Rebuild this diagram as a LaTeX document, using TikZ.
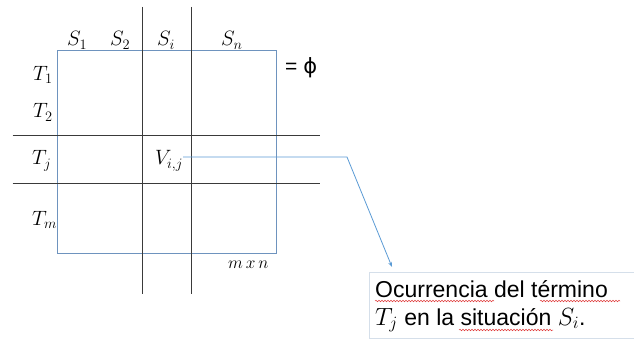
\documentclass[tikz,border=0pt]{standalone}
\usepackage{fontspec}
\newfontfamily\arialf{Liberation Sans}
\newfontfamily\dejaf{DejaVu Sans}
\usetikzlibrary{arrows.meta,decorations.pathmorphing}
\definecolor{rectblue}{HTML}{6E93BE}
\definecolor{connblue}{HTML}{5B9BD5}
\definecolor{gridline}{HTML}{3A3A3A}
\definecolor{boxedge}{HTML}{D5DFEA}
\definecolor{squig}{HTML}{E03C3C}
\begin{document}
\begin{tikzpicture}[x=1pt,y=-1pt,
  mlabel/.style={font=\fontsize{22.5}{26}\selectfont, inner sep=0pt, anchor=base west},
  smalllabel/.style={font=\fontsize{17}{20}\selectfont, inner sep=0pt, anchor=base west},
  txt/.style={font=\arialf\fontsize{23}{28}\selectfont, inner sep=0pt, anchor=base west},
  gline/.style={draw=gridline, line width=1pt},
  matrixbox/.style={draw=rectblue, line width=1pt},
  conn/.style={draw=connblue, line width=0.8pt, -{Stealth[length=5pt,width=4pt]}},
  squiggle/.style={draw=squig, line width=0.5pt, decorate, decoration={snake, amplitude=0.8pt, segment length=3pt}}
]
\useasboundingbox (0,0) rectangle (634,339);
\fill[white] (0,0) rectangle (634,339);

% matrix rectangle
\draw[matrixbox] (57.7,50.7) rectangle (276.7,253.7);

% grid lines
\coordinate (v1top) at (142.3,7);
\coordinate (v1bot) at (142.3,294);
\coordinate (v2top) at (191.7,7);
\coordinate (v2bot) at (191.7,294);
\coordinate (h1l) at (12.7,135.5);
\coordinate (h1r) at (320,135.5);
\coordinate (h2l) at (12.7,183.5);
\coordinate (h2r) at (320,183.5);
\draw[gline] (v1top) -- (v1bot);
\draw[gline] (v2top) -- (v2bot);
\draw[gline] (h1l) -- (h1r);
\draw[gline] (h2l) -- (h2r);

% column labels
\node[mlabel] (s1) at (67,46) {$S_1$};
\node[mlabel] (s2) at (110,46) {$S_2$};
\node[mlabel] (si) at (157,46) {$S_i$};
\node[mlabel] (sn) at (221,46) {$S_n$};

% row labels
\node[mlabel] (t1) at (33,80.5) {$T_1$};
\node[mlabel] (t2) at (33,118) {$T_2$};
\node[mlabel] (tj) at (32,165) {$T_j$};
\node[mlabel] (tm) at (32,225) {$T_m$};

% cell
\node[mlabel] (vij) at (155,165) {$V_{i,j}$};

% = phi
\node[font=\arialf\fontsize{21}{25}\selectfont, inner sep=0pt, anchor=base west] (phi) at (285,74) {= {\dejaf ϕ}};

% dimension
\node[smalllabel] (dim) at (228,268) {$m\,x\,n$};

% callout box
\node[draw=boxedge, line width=0.6pt, minimum width=300pt, minimum height=66pt, anchor=north west, inner sep=0pt] (callout) at (369,272) {};
\node[txt] (line1) at (375,297) {Ocurrencia del término};
\node[txt] (line2) at (375,325) {$T_j$ en la situación $S_i$.};

% spell-check squiggles
\draw[squiggle] (375,301) -- (494,301);
\draw[squiggle] (540,301) -- (620,301);
\draw[squiggle] (459,330) -- (553,330);

% connector
\coordinate (bend) at (347,157);
\coordinate (tip) at (392,267);
\draw[conn] (vij.east |- bend) -- (bend) -- (tip);
\end{tikzpicture}
\end{document}
